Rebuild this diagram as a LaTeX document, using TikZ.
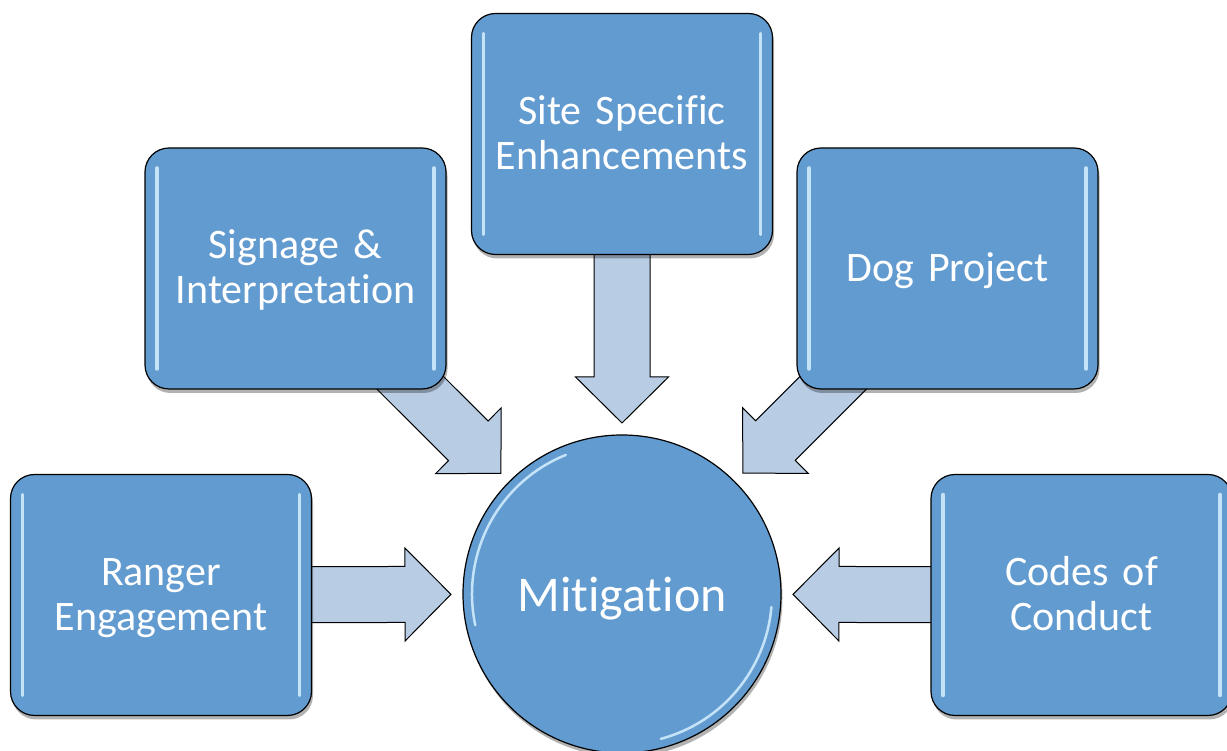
\documentclass[tikz,border=0pt]{standalone}
\usepackage{fontspec}
\setmainfont{Carlito}[Ligatures=NoCommon]
\usetikzlibrary{calc,shadows,backgrounds}

\definecolor{boxblue}{RGB}{98,155,208}
\definecolor{arrowblue}{RGB}{184,204,228}
\definecolor{glint}{RGB}{214,240,255}

\begin{document}
\begin{tikzpicture}[x=1pt,y=1pt,
  glint line/.style={draw=glint, line width=3.5pt, line cap=round, opacity=0.85},
  box/.style={draw=black, line width=1.2pt, fill=boxblue, rounded corners=24pt,
    minimum width=301pt, minimum height=241pt, text width=290pt, align=center,
    text=white, font=\fontsize{42}{45}\selectfont,
    execute at begin node={\rule{0pt}{37pt}},
    execute at end node={\rule[-11pt]{0pt}{11pt}},
    drop shadow={shadow xshift=1.5pt, shadow yshift=-4pt, opacity=0.3, fill=black},
    path picture={
      \draw[glint line] ([shift={(12pt,-20pt)}]path picture bounding box.north west)
        -- ([shift={(12pt,20pt)}]path picture bounding box.south west);
      \draw[glint line] ([shift={(-12pt,-20pt)}]path picture bounding box.north east)
        -- ([shift={(-12pt,20pt)}]path picture bounding box.south east);
    }},
  hub/.style={circle, draw=black, line width=1.2pt, fill=boxblue,
    minimum size=318pt, inner sep=0pt, text=white, font=\fontsize{50}{56}\selectfont,
    execute at begin node={\rule[-12pt]{0pt}{60pt}},
    drop shadow={shadow xshift=1.5pt, shadow yshift=-4pt, opacity=0.3, fill=black},
    path picture={
      \draw[glint line, line width=2.5pt] ($(path picture bounding box.center)+(112:150pt)$)
        arc[start angle=112, end angle=192, radius=150pt];
      \draw[glint line, line width=2.5pt] ($(path picture bounding box.center)+(285:150pt)$)
        arc[start angle=285, end angle=355, radius=150pt];
    }},
  flow/.style={draw=black, line width=1pt, fill=arrowblue}
]
\useasboundingbox (0,0) rectangle (1227,751);

% outer boxes
\node[box] (rg) at (161,156) {Ranger\\Engagement};
\node[box] (si) at (295.5,482.5) {Signage \&\\Interpretation};
\node[box] (ss) at (622,617) {Site Specific\\Enhancements};
\node[box] (dp) at (947.5,482.5) {Dog Project};
\node[box] (cc) at (1081.5,156) {Codes of\\Conduct};

% centre
\node[hub] (mi) at (622,157) {Mitigation};

% block arrows, behind the boxes
\begin{scope}[on background layer]
\foreach \b in {rg,si,ss,dp,cc} {
  \coordinate (t) at ($(mi.center)!171pt!(\b.center)$);
  \coordinate (h) at ($(t)!46pt!(\b.center)$);
  \draw[flow] ($(\b.center)!28pt!-90:(t)$) -- ($(h)!28pt!90:(\b.center)$)
    -- ($(h)!46.5pt!90:(\b.center)$) -- (t) -- ($(h)!46.5pt!-90:(\b.center)$)
    -- ($(h)!28pt!-90:(\b.center)$) -- ($(\b.center)!28pt!90:(t)$) -- cycle;
}
\end{scope}

\end{tikzpicture}
\end{document}
